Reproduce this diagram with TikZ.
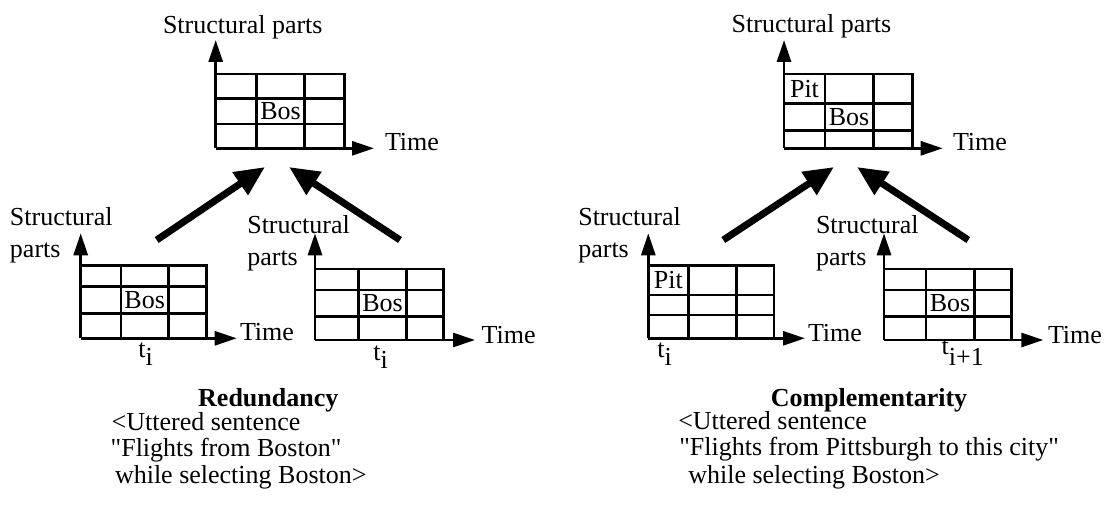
\documentclass[tikz,border=0pt]{standalone}
\usepackage{fontspec}
\setmainfont{Liberation Serif}[Ligatures=TeXOff]
\usetikzlibrary{arrows.meta}
\begin{document}
\begin{tikzpicture}[x=0.5pt,y=-0.5pt,
  txt/.style={font=\fontsize{13}{15}\selectfont, inner sep=0pt, outer sep=0pt},
  txtb/.style={txt, font=\fontsize{13}{15}\selectfont\bfseries},
  gl/.style={line width=1.4pt},
  ax/.style={line width=1.4pt, -{Triangle[length=11pt,width=7pt]}},
  big/.style={line width=3.5pt, -{Triangle[length=15pt,width=13pt]}},
]
\useasboundingbox (0,0) rectangle (1107,508);

% ---- grid 1 (top left)
\draw[gl] (215.7,74) -| (344.3,148.3);
\draw[gl] (215.7,98.3) -- (344.3,98.3) (215.7,124) -- (344.3,124)
          (256.7,74) -- (256.7,148.3) (304.3,74) -- (304.3,148.3);
\draw[ax] (215.7,148.3) -- (215.7,40);
\draw[ax] (215.7,148.3) -- (374,148.3);
\node[txt] (bos1) at (280.5,111) {Bos};
\node[txt, anchor=base west] (sp1) at (163,34) {Structural parts};
\node[txt, anchor=base west] (tm1) at (385,150) {Time};

% ---- grid 2 (top right)
\draw[gl] (784,74) -| (912.7,148.3);
\draw[gl] (784,103.3) -- (912.7,103.3) (784,130.7) -- (912.7,130.7)
          (825,74) -- (825,148.3) (873.3,74) -- (873.3,148.3);
\draw[ax] (784,148.3) -- (784,40);
\draw[ax] (784,148.3) -- (942.7,148.3);
\node[txt] (pit2) at (804.5,88.7) {Pit};
\node[txt] (bos2) at (849,117) {Bos};
\node[txt, anchor=base west] (sp2) at (731.7,33) {Structural parts};
\node[txt, anchor=base west] (tm2) at (953,150) {Time};

% ---- grid 3 (bottom left 1)
\draw[gl] (80.7,265.7) -| (206.7,338.3);
\draw[gl] (80.7,286.7) -- (206.7,286.7) (80.7,313.3) -- (206.7,313.3)
          (121,265.7) -- (121,338.3) (168.3,265.7) -- (168.3,338.3);
\draw[ax] (80.7,338.3) -- (80.7,233.3);
\draw[ax] (80.7,338.3) -- (236.7,338.3);
\node[txt] (bos3) at (144.7,300.5) {Bos};
\node[txt, anchor=base west] (sp3a) at (10,225) {Structural};
\node[txt, anchor=base west] (sp3b) at (10,257) {parts};
\node[txt, anchor=base west] (tm3) at (240,340.7) {Time};
\node[txt, anchor=base west] (t3) at (138.3,357) {t\raisebox{-4pt}{i}};

% ---- grid 4 (bottom left 2)
\draw[gl] (315,269) -| (443.3,340);
\draw[gl] (315,290) -- (443.3,290) (315,316.7) -- (443.3,316.7)
          (358.3,269) -- (358.3,340) (406.7,269) -- (406.7,340);
\draw[ax] (315,340) -- (315,233.3);
\draw[ax] (315,340) -- (475,340);
\node[txt] (bos4) at (382.5,303.3) {Bos};
\node[txt, anchor=base west] (sp4a) at (247.3,233.3) {Structural};
\node[txt, anchor=base west] (sp4b) at (247.3,265) {parts};
\node[txt, anchor=base west] (tm4) at (481.7,343.3) {Time};
\node[txt, anchor=base west] (t4) at (373.3,360) {t\raisebox{-4pt}{i}};

% ---- grid 5 (bottom right 1)
\draw[gl] (648.3,265.7) -| (774,338.3);
\draw[gl] (648.3,295) -- (774,295) (648.3,315) -- (774,315)
          (688.3,265.7) -- (688.3,338.3) (736.7,265.7) -- (736.7,338.3);
\draw[ax] (648.3,338.3) -- (648.3,233.3);
\draw[ax] (648.3,338.3) -- (805,338.3);
\node[txt] (pit5) at (668.3,280.3) {Pit};
\node[txt, anchor=base west] (sp5a) at (578.3,225) {Structural};
\node[txt, anchor=base west] (sp5b) at (578.3,257) {parts};
\node[txt, anchor=base west] (tm5) at (808,341) {Time};
\node[txt, anchor=base west] (t5) at (657.3,357) {t\raisebox{-4pt}{i}};

% ---- grid 6 (bottom right 2)
\draw[gl] (884,269) -| (1011.7,340);
\draw[gl] (884,290) -- (1011.7,290) (884,316.7) -- (1011.7,316.7)
          (926,269) -- (926,340) (974.3,269) -- (974.3,340);
\draw[ax] (884,340) -- (884,233.3);
\draw[ax] (884,340) -- (1043.3,340);
\node[txt] (bos6) at (950,303.3) {Bos};
\node[txt, anchor=base west] (sp6a) at (816,233.3) {Structural};
\node[txt, anchor=base west] (sp6b) at (816,265) {parts};
\node[txt, anchor=base west] (tm6) at (1048,343) {Time};
\node[txt, anchor=base west] (t6) at (941.7,354) {t\raisebox{-5.5pt}{i+1}};

% ---- big arrows
\coordinate (a1s) at (156.7,240); \coordinate (a1e) at (265,167);
\coordinate (a2s) at (400,240);   \coordinate (a2e) at (289,167);
\coordinate (a3s) at (723.3,240); \coordinate (a3e) at (834,167);
\coordinate (a4s) at (968.3,240); \coordinate (a4e) at (857,167);
\draw[big] (a1s) -- (a1e);
\draw[big] (a2s) -- (a2e);
\draw[big] (a3s) -- (a3e);
\draw[big] (a4s) -- (a4e);

% ---- captions
\node[txtb, anchor=base] (red) at (268.3,406) {Redundancy};
\node[txt, anchor=base west] (r1) at (111.7,430) {<Uttered sentence};
\node[txt, anchor=base west] (r2) at (110.7,456) {"Flights from Boston"};
\node[txt, anchor=base west] (r3) at (115,483) {while selecting Boston>};

\node[txtb, anchor=base] (cmp) at (869,406) {Complementarity};
\node[txt, anchor=base west] (c1) at (678.3,429) {<Uttered sentence};
\node[txt, anchor=base west] (c2) at (679.3,455) {"Flights from Pittsburgh to this city"};
\node[txt, anchor=base west] (c3) at (688.3,483) {while selecting Boston>};
\end{tikzpicture}
\end{document}
